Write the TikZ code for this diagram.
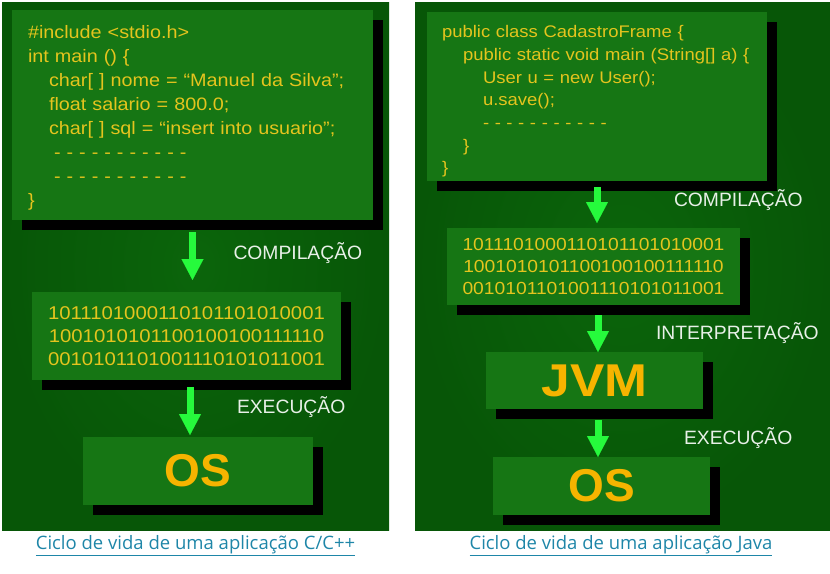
\documentclass[tikz,border=0pt]{standalone}
\usepackage{fontspec}
\setmainfont{Liberation Sans}
\newfontfamily\codefont[FakeStretch=1.1]{Liberation Sans}
\newfontfamily\widefont[FakeStretch=1.12]{Liberation Sans}
\newfontfamily\capfont{Open Sans}
\usepackage{tikz}
\usetikzlibrary{arrows.meta}
\usetikzlibrary{shadows}
\usetikzlibrary {positioning}
\definecolor{panelgreen}{RGB}{11,101,11}
\definecolor{paneledge}{RGB}{7,86,7}
\definecolor{boxgreen}{RGB}{22,118,20}
\definecolor{codeyellow}{RGB}{228,196,30}
\definecolor{osorange}{RGB}{246,180,0}
\definecolor{flowgreen}{RGB}{38,250,60}
\definecolor{labelwhite}{RGB}{232,240,232}
\definecolor{linkblue}{RGB}{30,134,168}
\tikzset{box node/.style={rectangle,fill=boxgreen,inner sep=0pt,outer sep=0pt,
    drop shadow={shadow xshift=10pt,shadow yshift=-10pt,fill=black,opacity=1}}}
\tikzset{code box/.style={box node,anchor=north west,align=left,inner xsep=15pt,text=codeyellow}}
\tikzset{bin box/.style={box node,align=center,text=codeyellow,font=\codefont\fontsize{18.5}{23}\selectfont}}
\tikzset{sys box/.style={box node,text=osorange,font=\bfseries\fontsize{46}{46}\selectfont}}
\tikzset{flow/.style={draw=flowgreen,line width=7pt,-{Triangle[width=22pt,length=21pt,line width=0.1pt]}}}
\tikzset{stage label/.style={inner sep=0pt,outer sep=0pt,text=labelwhite,font=\fontsize{19.3}{20}\selectfont}}
\tikzset{caption/.style={inner sep=0pt,text=linkblue,font=\capfont\fontsize{18.5}{20}\selectfont}}

\begin{document}
\begin{tikzpicture}[x=1pt,y=-1pt]
    	\useasboundingbox (0,0) rectangle (830,573);
    	% panels
    	\shade[inner color=panelgreen,outer color=paneledge] (2,2) rectangle (389,530);
    	\shade[inner color=panelgreen,outer color=paneledge] (415,2) rectangle (830,530);

    	% C/C++
    	\node[code box,text width=329pt,inner xsep=16pt,minimum height=210pt,
    	      font=\codefont\fontsize{18}{24}\selectfont] (codeC) at (12,10) {%
    	\rule{0pt}{19pt}\#include <stdio.h>\\
    	int main () \{\\
    	\hspace*{21pt}char[ ] nome = “Manuel da Silva”;\\
    	\hspace*{21pt}float salario = 800.0;\\
    	\hspace*{21pt}char[ ] sql = “insert into usuario”;\\
    	\hspace*{26pt}- - - - - - - - - - -\\
    	\hspace*{26pt}- - - - - - - - - - -\\
    	\}};
    	\node[bin box,minimum width=309pt,minimum height=88pt] (binC) [below = 72pt of codeC, xshift=-6pt]
    	    {1011101000110101101010001\\1001010101100100100111110\\0010101101001110101011001};
    	\node[sys box,minimum width=230pt,minimum height=68pt] (osC) [below = 57pt of binC, xshift=11.5pt] {OS};

    	\path
    	(codeC.south) edge[flow,shorten <=12pt,shorten >=12pt] node[stage label,midway,right=41pt,yshift=3pt] {COMPILAÇÃO} (codeC.south |- binC.north)
    	([xshift=3.5pt]binC.south) edge[flow,shorten <=7pt,shorten >=2pt] node[stage label,midway,right=47pt,yshift=1.5pt] {EXECUÇÃO} ([xshift=3.5pt]binC.south |- osC.north);

    	% Java
    	\node[code box,text width=310pt,minimum height=169pt,
    	      font=\codefont\fontsize{16.8}{22.7}\selectfont] (codeJ) at (427,12) {%
    	\rule{0pt}{22pt}public class CadastroFrame \{\\
    	\hspace*{21pt}public static void main (String[] a) \{\\
    	\hspace*{41pt}User u = new User();\\
    	\hspace*{41pt}u.save();\\
    	\hspace*{41pt}- - - - - - - - - - -\\
    	\hspace*{21pt}\}\\
    	\}};
    	\node[bin box,minimum width=293pt,minimum height=77pt,font=\codefont\fontsize{17.5}{22}\selectfont] (binJ) [below = 47pt of codeJ, xshift=-3.5pt]
    	    {1011101000110101101010001\\1001010101100100100111110\\0010101101001110101011001};
    	\node[sys box,minimum width=217pt,minimum height=57pt,font=\widefont\bfseries\fontsize{46}{46}\selectfont] (jvm) [below = 47pt of binJ, xshift=1pt] {JVM};
    	\node[sys box,minimum width=217pt,minimum height=58pt] (osJ) [below = 48pt of jvm, xshift=7pt] {OS};

    	\path
    	(codeJ.south) edge[flow,shorten <=6pt,shorten >=5pt] node[stage label,midway,right=77pt,yshift=4.5pt] {COMPILAÇÃO} (codeJ.south |- binJ.north)
    	([xshift=4.5pt]binJ.south) edge[flow,shorten <=10pt] node[stage label,midway,right=58pt,yshift=-4.5pt] {INTERPRETAÇÃO} ([xshift=4.5pt]binJ.south |- jvm.north)
    	([xshift=3.5pt]jvm.south) edge[flow,shorten <=11pt] node[stage label,midway,right=86pt,yshift=-5pt] {EXECUÇÃO} ([xshift=3.5pt]jvm.south |- osJ.north);

    	% captions
    	\node[caption] (capC) at (195.5,546) {\underline{Ciclo de vida de uma aplicação C/C++}};
    	\node[caption] (capJ) at (621,546) {\underline{Ciclo de vida de uma aplicação Java}};
\end{tikzpicture}
\end{document}
